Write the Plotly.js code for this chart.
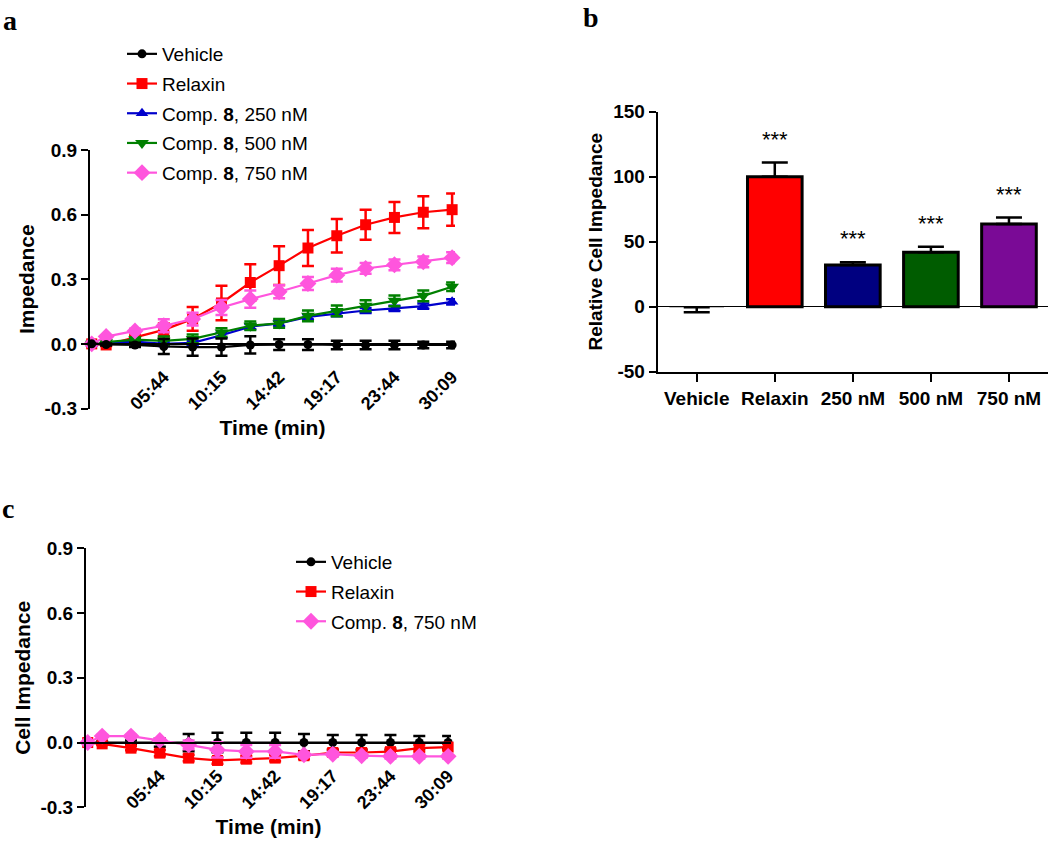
<!DOCTYPE html>
<html>
<head>
<meta charset="utf-8">
<script src="https://cdn.plot.ly/plotly-3.0.1.min.js"></script>
<style>html,body{margin:0;padding:0;background:#fff;}#chart{width:1050px;height:846px;}</style>
</head>
<body>
<div id="chart"></div>
<script>
// ---------- DATA ----------
const timePts = [0, 0.5, 1.5, 2.5, 3.5, 4.5, 5.5, 6.5, 7.5, 8.5, 9.5, 10.5, 11.5, 12.5];
const timeTickPos = [2.5, 4.5, 6.5, 8.5, 10.5, 12.5];
const timeTickLabels = ['05:44', '10:15', '14:42', '19:17', '23:44', '30:09'];
const impTicks = [-0.3, 0, 0.3, 0.6, 0.9];
const relTicks = [-50, 0, 50, 100, 150];

// Panel a
const vehA     = [0, -0.003, -0.005, -0.012, -0.015, -0.015, -0.005, -0.003, -0.003, -0.005, -0.005, -0.005, -0.005, -0.005];
const vehAErr  = [0, 0.005, 0.01, 0.035, 0.04, 0.04, 0.04, 0.025, 0.025, 0.02, 0.02, 0.02, 0.015, 0.015];
const relA     = [0, -0.005, 0.03, 0.065, 0.116, 0.19, 0.285, 0.363, 0.445, 0.502, 0.553, 0.587, 0.611, 0.623];
const relAErr  = [0, 0.005, 0.01, 0.03, 0.055, 0.08, 0.085, 0.09, 0.084, 0.078, 0.07, 0.072, 0.074, 0.075];
const c250A    = [0, 0.005, 0.01, 0.0, 0.005, 0.04, 0.08, 0.095, 0.125, 0.14, 0.155, 0.165, 0.175, 0.195];
const c250AErr = [0, 0.005, 0.01, 0.01, 0.01, 0.012, 0.012, 0.012, 0.012, 0.012, 0.012, 0.012, 0.012, 0.012];
const c500A    = [0, 0.008, 0.02, 0.014, 0.023, 0.053, 0.084, 0.095, 0.13, 0.153, 0.177, 0.2, 0.223, 0.265];
const c500AErr = [0, 0.005, 0.01, 0.02, 0.02, 0.02, 0.02, 0.02, 0.025, 0.025, 0.025, 0.025, 0.025, 0.02];
const c750A    = [0, 0.034, 0.06, 0.084, 0.115, 0.169, 0.208, 0.242, 0.28, 0.319, 0.35, 0.367, 0.381, 0.4];
const c750AErr = [0, 0.005, 0.01, 0.03, 0.03, 0.035, 0.04, 0.03, 0.03, 0.03, 0.025, 0.025, 0.025, 0.025];

// Panel b
const barCats     = ['Vehicle', 'Relaxin', '250 nM', '500 nM', '750 nM'];
const barMeans    = [-0.5, 100, 32.1, 41.8, 63.6];
const barErrPlus  = [0, 11, 2, 4.4, 5];
const barErrMinus = [3.8, 0, 0, 0, 0];
const barColors   = ['#000000', '#FF0000', '#000080', '#005C00', '#7A0A96'];
const barSig      = ['', '***', '***', '***', '***'];

// Panel c
const vehC     = [0, 0, 0, 0, 0, 0, 0, 0, 0, 0, 0, 0, 0, 0];
const vehCErr  = [0, 0.005, 0.01, 0.02, 0.04, 0.045, 0.045, 0.045, 0.04, 0.035, 0.035, 0.035, 0.03, 0.03];
const relC     = [0, -0.006, -0.026, -0.049, -0.072, -0.083, -0.077, -0.072, -0.061, -0.046, -0.046, -0.042, -0.026, -0.021];
const relCErr  = [0, 0.005, 0.01, 0.015, 0.015, 0.015, 0.015, 0.015, 0.015, 0.015, 0.015, 0.015, 0.015, 0.015];
const c750C    = [0, 0.03, 0.03, 0.01, -0.011, -0.034, -0.041, -0.041, -0.057, -0.054, -0.061, -0.064, -0.064, -0.064];
const c750CErr = [0, 0.005, 0.005, 0.01, 0.02, 0.035, 0.03, 0.03, 0.01, 0.01, 0.01, 0.01, 0.01, 0.01];

// ---------- LAYOUT HELPERS ----------
const W = 1050, H = 846;
const fx = px => px / W;
const fy = py => 1 - py / H;
const FONT = 'Liberation Sans, Arial, sans-serif';

function lineTrace(name, y, err, color, symbol, size, xa, ya, legend, rank) {
  return {
    type: 'scatter', mode: 'lines+markers', name: name,
    x: timePts, y: y, xaxis: xa, yaxis: ya,
    line: {color: color, width: 2.2},
    marker: {color: color, symbol: symbol, size: size},
    error_y: {type: 'data', array: err, visible: true, color: color, thickness: 2.5, width: 6},
    legend: legend, legendgroup: legend + name, legendrank: rank,
    showlegend: true, cliponaxis: false
  };
}

const traces = [
  lineTrace('Relaxin', relA, relAErr, '#FF0000', 'square', 11, 'x', 'y', 'legend', 2),
  lineTrace('Comp. <b>8</b>, 250 nM', c250A, c250AErr, '#0000CC', 'triangle-up', 11, 'x', 'y', 'legend', 3),
  lineTrace('Comp. <b>8</b>, 500 nM', c500A, c500AErr, '#008000', 'triangle-down', 12, 'x', 'y', 'legend', 4),
  lineTrace('Comp. <b>8</b>, 750 nM', c750A, c750AErr, '#FF55DD', 'diamond', 13, 'x', 'y', 'legend', 5),
  lineTrace('Vehicle', vehA, vehAErr, '#000000', 'circle', 9, 'x', 'y', 'legend', 1),

  lineTrace('Vehicle', vehC, vehCErr, '#000000', 'circle', 9, 'x2', 'y2', 'legend2', 1),
  lineTrace('Relaxin', relC, relCErr, '#FF0000', 'square', 11, 'x2', 'y2', 'legend2', 2),
  lineTrace('Comp. <b>8</b>, 750 nM', c750C, c750CErr, '#FF55DD', 'diamond', 13, 'x2', 'y2', 'legend2', 3),

  {
    type: 'bar', x: barCats, y: barMeans, xaxis: 'x3', yaxis: 'y3', width: 0.7,
    marker: {color: barColors, line: {color: '#000000', width: [0, 3, 3, 3, 3]}},
    error_y: {type: 'data', symmetric: false, array: barErrPlus, arrayminus: barErrMinus,
              visible: true, color: '#000000', thickness: 2.5, width: 13},
    showlegend: false
  }
];

const tickFont = {family: FONT, size: 19, color: '#000', weight: 'bold'};
const xTickFont = {family: FONT, size: 18, color: '#000', weight: 'bold'};
const titleFont = {family: FONT, size: 21, color: '#000', weight: 'bold'};

function timeAxis(domain, yPos) {
  return {
    domain: domain, range: [-0.06, 12.6], anchor: 'free', position: yPos,
    showline: true, linecolor: '#000', linewidth: 2,
    ticks: 'outside', ticklen: 15, tickcolor: 'rgba(0,0,0,0)',
    tickvals: timeTickPos, ticktext: timeTickLabels, tickangle: -45,
    tickfont: xTickFont, showgrid: false, zeroline: false,
    title: {text: 'Time (min)', font: titleFont, standoff: 6}
  };
}
function impAxis(domain, title, anchor) {
  return {
    domain: domain, range: [-0.3, 0.9], anchor: anchor,
    showline: true, linecolor: '#000', linewidth: 2,
    ticks: 'outside', ticklen: 7, tickwidth: 2, tickcolor: '#000',
    tickvals: impTicks, ticktext: impTicks.map(v => v.toFixed(1)),
    tickfont: tickFont, showgrid: false, zeroline: false,
    title: {text: title, font: titleFont, standoff: 4}
  };
}

const layout = {
  width: W, height: H, margin: {l: 0, r: 0, t: 0, b: 0},
  paper_bgcolor: '#fff', plot_bgcolor: 'rgba(0,0,0,0)',
  font: {family: FONT, color: '#000'},
  xaxis: timeAxis([fx(90), fx(455)], fy(343.5)),
  yaxis: impAxis([fy(408.5), fy(150)], 'Impedance', 'x'),
  xaxis2: timeAxis([fx(86), fx(451)], fy(742.5)),
  yaxis2: impAxis([fy(807.3), fy(548.3)], 'Cell Impedance', 'x2'),
  xaxis3: {
    domain: [fx(657.7), fx(1048)], range: [-0.5, 4.5], anchor: 'y3', type: 'category',
    showline: true, linecolor: '#000', linewidth: 2,
    ticks: 'outside', ticklen: 8, tickwidth: 2, tickcolor: '#000',
    tickfont: {family: FONT, size: 19, color: '#000', weight: 'bold'}, showgrid: false, zeroline: false
  },
  yaxis3: {
    domain: [fy(371.7), fy(111.7)], range: [-50, 150], anchor: 'x3',
    showline: true, linecolor: '#000', linewidth: 2,
    ticks: 'outside', ticklen: 7, tickwidth: 2, tickcolor: '#000',
    tickvals: relTicks, ticktext: relTicks.map(v => String(v)),
    tickfont: {family: FONT, size: 19, color: '#000', weight: 'bold'}, showgrid: false,
    zeroline: true, zerolinecolor: '#000', zerolinewidth: 1.5,
    title: {text: 'Relative Cell Impedance', font: {family: FONT, size: 19, color: '#000', weight: 'bold'}, standoff: 6}
  },
  legend: {x: fx(122), xanchor: 'left', y: fy(35), yanchor: 'top', traceorder: 'grouped', tracegroupgap: 2,
           font: {family: FONT, size: 19, color: '#000'}, bgcolor: 'rgba(0,0,0,0)', borderwidth: 0},
  legend2: {x: fx(291), xanchor: 'left', y: fy(543), yanchor: 'top', traceorder: 'grouped', tracegroupgap: 2,
           font: {family: FONT, size: 19, color: '#000'}, bgcolor: 'rgba(0,0,0,0)', borderwidth: 0},
  annotations: [],
  bargap: 0.3
};

const panelFont = {family: 'Liberation Serif, Times New Roman, serif', size: 28, weight: 'bold', color: '#000'};
layout.annotations.push(
  {text: 'a', x: fx(1), y: fy(3), xref: 'paper', yref: 'paper', xanchor: 'left', yanchor: 'top', showarrow: false, font: panelFont},
  {text: 'b', x: fx(581), y: fy(0), xref: 'paper', yref: 'paper', xanchor: 'left', yanchor: 'top', showarrow: false, font: panelFont},
  {text: 'c', x: fx(0), y: fy(491), xref: 'paper', yref: 'paper', xanchor: 'left', yanchor: 'top', showarrow: false, font: panelFont}
);
barCats.forEach((c, i) => {
  if (barSig[i]) layout.annotations.push({
    text: barSig[i], x: c, y: barMeans[i] + barErrPlus[i] + 18, xref: 'x3', yref: 'y3',
    showarrow: false, yanchor: 'middle',
    font: {family: FONT, size: 22, color: '#000'}
  });
});

Plotly.newPlot('chart', traces, layout, {staticPlot: true, displayModeBar: false});
</script>
</body>
</html>
